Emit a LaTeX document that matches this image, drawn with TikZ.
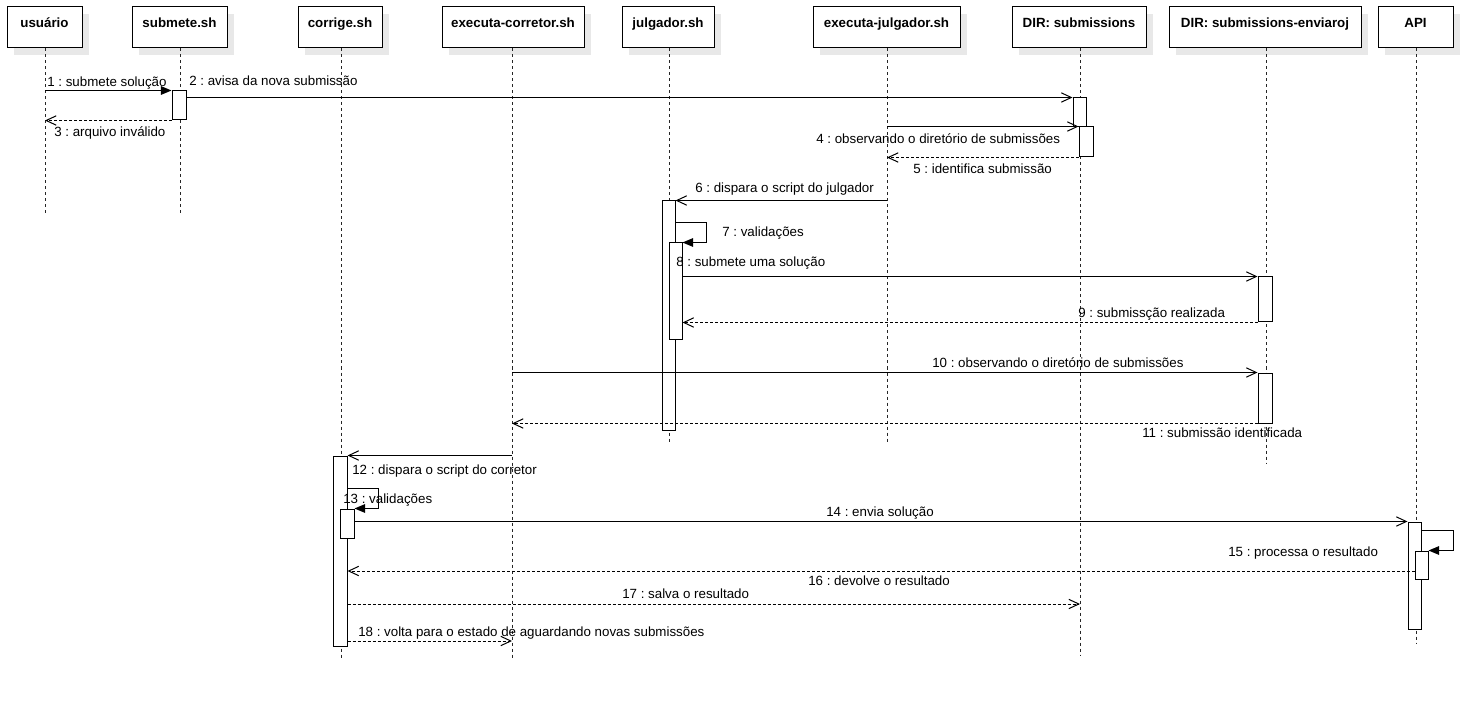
\documentclass[tikz,border=0pt]{standalone}
\usepackage{fontspec}
\setmainfont{Liberation Sans}
\frenchspacing
\usetikzlibrary{arrows.meta,fit,shadows}
\definecolor{shadowgray}{RGB}{232,232,232}
\begin{document}
\frenchspacing
\begin{tikzpicture}[x=0.75pt,y=-0.75pt,
  every node/.style={font=\fontsize{10pt}{12pt}\selectfont},
  hdr/.style={draw=black, line width=0.75pt, fill=white, inner sep=0pt,
    general shadow={fill=shadowgray, draw=none, shadow xshift=5.25pt, shadow yshift=-5.25pt}},
  hdrtext/.style={font=\fontsize{10pt}{12pt}\selectfont\bfseries, anchor=base, inner sep=0pt, yshift=-15.4pt},
  life/.style={line width=0.75pt, dash pattern=on 2.25pt off 2.25pt, draw=black!85},
  act/.style={draw=black, fill=white, line width=0.75pt, inner sep=0pt},
  msg/.style={line width=0.75pt, -{Straight Barb[length=7.5pt,width=7pt]}},
  ret/.style={msg, dash pattern=on 2.25pt off 1.5pt},
  sync/.style={line width=0.75pt, -{Triangle[length=8pt,width=6.5pt]}},
  lbl/.style={anchor=base west, inner sep=0pt},
]
\fill[white] (0,0) rectangle (1460,702);
\useasboundingbox (0,0) rectangle (1460,702);

% headers
\node[hdr, fit={(7,7) (82,48)}, label={[hdrtext]north:usuário}] (u) {};
\node[hdr, fit={(132,7) (227,48)}, label={[hdrtext]north:submete.sh}] (s) {};
\node[hdr, fit={(298,7) (382,48)}, label={[hdrtext]north:corrige.sh}] (c) {};
\node[hdr, fit={(442,7) (584,48)}, label={[hdrtext]north:executa-corretor.sh}] (ec) {};
\node[hdr, fit={(622,7) (714,48)}, label={[hdrtext]north:julgador.sh}] (j) {};
\node[hdr, fit={(813,7) (960,48)}, label={[hdrtext]north:executa-julgador.sh}] (ej) {};
\node[hdr, fit={(1012,7) (1146,48)}, label={[hdrtext]north:DIR: submissions}] (ds) {};
\node[hdr, fit={(1169,7) (1361,48)}, label={[hdrtext]north:DIR: submissions-enviaroj}] (en) {};
\node[hdr, fit={(1378,7) (1453,48)}, label={[hdrtext]north:API}] (ap) {};

% lifeline ends
\coordinate (uE) at (45,213);
\coordinate (sE) at (180,213);
\coordinate (cE) at (341,660);
\coordinate (ecE) at (512,660);
\coordinate (jE) at (669,443);
\coordinate (ejE) at (887,443);
\coordinate (dsE) at (1080,655);
\coordinate (enE) at (1266,463);
\coordinate (apE) at (1416,643);

\foreach \h/\e in {u/uE, s/sE, c/cE, ec/ecE, j/jE, ej/ejE, ds/dsE, en/enE, ap/apE}
  \draw[life] (\h.south -| \e) -- (\e);

% activations
\node[act, fit={(172,91) (186,120)}] (sa) {};
\node[act, fit={(662,201) (675,430)}] (ja) {};
\node[act, fit={(669,243) (682,339)}] (jn) {};
\node[act, fit={(1073,98) (1086,127)}] (ds1) {};
\node[act, fit={(1079,127) (1093,157)}] (ds2) {};
\node[act, fit={(1258,277) (1272,322)}] (ea1) {};
\node[act, fit={(1258,373) (1272,423)}] (ea2) {};
\node[act, fit={(333,456) (347,646)}] (ca) {};
\node[act, fit={(340,509) (354,538)}] (cn) {};
\node[act, fit={(1408,522) (1421,629)}] (aa) {};
\node[act, fit={(1415,551) (1428,579)}] (an) {};

% loop corners and message levels
\coordinate (l7) at (706,223);
\coordinate (l13) at (378,488);
\coordinate (l15) at (1453,530);
\coordinate (m16) at (1400,571);
\coordinate (m17) at (700,604);
\coordinate (m18) at (400,641);

% messages
\draw[sync] (uE |- sa.north) -- (sa.north west);
\draw[msg] (sa.east |- ds1.north) -- (ds1.north west);
\draw[ret] (sa.south west) -- (uE |- sa.south);
\draw[msg] (ejE |- ds2.north) -- (ds2.north west);
\draw[ret] (ds2.south west) -- (ejE |- ds2.south);
\draw[msg] (ejE |- ja.north) -- (ja.north east);
\draw[sync] (ja.east |- l7) -- (l7) |- (jn.north east);
\draw[msg] (jn.east |- ea1.north) -- (ea1.north west);
\draw[ret] (ea1.south west) -- (jn.east |- ea1.south);
\draw[msg] (ecE |- ea2.north) -- (ea2.north west);
\draw[ret] (ea2.south west) -- (ecE |- ea2.south);
\draw[msg] (ecE |- ca.north) -- (ca.north east);
\draw[sync] (ca.east |- l13) -- (l13) |- (cn.north east);
\draw[msg] (cn.east |- aa.north) -- (aa.north west);
\draw[sync] (aa.east |- l15) -- (l15) |- (an.north east);
\draw[ret] (an.west |- m16) -- (ca.east |- m16);
\draw[ret] (ca.east |- m17) -- (dsE |- m17);
\draw[ret] (ca.east |- m18) -- (ecE |- m18);

% labels
\node[lbl] (t1) at (47,87) {1 : submete solução};
\node[lbl] (t2) at (189,86) {2 : avisa da nova submissão};
\node[lbl] (t3) at (54,137) {3 : arquivo inválido};
\node[lbl] (t4) at (816,143.5) {4 : observando o diretório de submissões};
\node[lbl] (t5) at (913,173.5) {5 : identifica submissão};
\node[lbl] (t6) at (695,192.5) {6 : dispara o script do julgador};
\node[lbl] (t7) at (722,237) {7 : validações};
\node[lbl] (t8) at (676,267) {8 : submete uma solução};
\node[lbl] (t9) at (1078,317) {9 : submissção realizada};
\node[lbl] (t10) at (932,367) {10 : observando o diretório de submissões};
\node[lbl] (t11) at (1142,437) {11 : submissão identificada};
\node[lbl] (t12) at (352,474) {12 : dispara o script do corretor};
\node[lbl] (t13) at (343,503) {13 : validações};
\node[lbl] (t14) at (826,516) {14 : envia solução};
\node[lbl] (t15) at (1228,556) {15 : processa o resultado};
\node[lbl] (t16) at (808,585) {16 : devolve o resultado};
\node[lbl] (t17) at (622,598) {17 : salva o resultado};
\node[lbl] (t18) at (358,636) {18 : volta para o estado de aguardando novas submissões};
\end{tikzpicture}
\end{document}
